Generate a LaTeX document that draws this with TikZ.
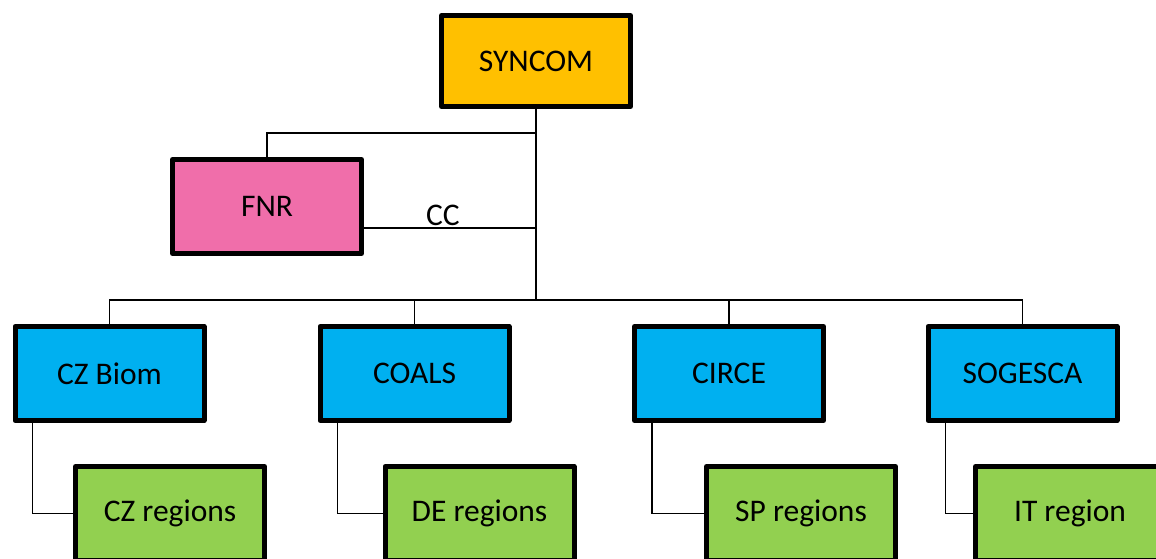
\documentclass[tikz,border=0pt]{standalone}
\usepackage{fontspec}
\setmainfont{Carlito}
\usetikzlibrary{calc}
\definecolor{cgold}{HTML}{FFC000}
\definecolor{cpink}{HTML}{F06EAA}
\definecolor{cblue}{HTML}{00B0F0}
\definecolor{cgreen}{HTML}{92D050}
\tikzset{
  box/.style={draw=black, line width=5pt, line join=round, inner sep=0pt, outer sep=0pt,
    minimum width=189pt, minimum height=94pt, font=\fontsize{31.5}{37}\selectfont},
  topbox/.style={box, fill=cgold, minimum height=91pt},
  fnrbox/.style={box, fill=cpink},
  orgbox/.style={box, fill=cblue},
  regbox/.style={box, fill=cgreen},
  link/.style={draw=black, line width=1.6pt},
  lbl/.style={inner sep=0pt, font=\fontsize{31.5}{37}\selectfont}
}
\begin{document}
\begin{tikzpicture}[x=1pt,y=-1pt]
\useasboundingbox (0,0) rectangle (1156,558);
\clip (0,0) rectangle (1156,558);
\fill[white] (0,0) rectangle (1156,558);
% nodes
\node[topbox] (syn) at (536,61) {SYNCOM};
\node[fnrbox] (fnr) at (267,206.5) {FNR};
\node[orgbox] (czb) at (109.5,373.5) {CZ Biom};
\node[orgbox] (coa) at (414.5,373.5) {COALS};
\node[orgbox] (cir) at (729,373.5) {CIRCE};
\node[orgbox] (sog) at (1022.5,373.5) {SOGESCA};
\node[regbox] (czr) at (170,513.5) {CZ regions};
\node[regbox] (der) at (479.5,513.5) {DE regions};
\node[regbox] (spr) at (801,513.5) {SP regions};
\node[regbox] (itr) at (1070,513.5) {IT region};
\node[lbl] (cc) at (443,215) {CC};
% junction coordinates
\coordinate (jf) at (536,133);
\coordinate (jc) at (536,228);
\coordinate (bus) at (536,300);
% connectors
\draw[link] (syn.south) -- (bus);
\draw[link] (fnr.north) |- (jf);
\draw[link] (fnr.east |- jc) -- (jc);
\draw[link] (czb.north) |- (sog.north |- bus) -- (sog.north);
\draw[link] (coa.north) -- (coa.north |- bus);
\draw[link] (cir.north) -- (cir.north |- bus);
\draw[link] ($(czb.south west)+(17.5,0)$) |- (czr.west);
\draw[link] ($(coa.south west)+(17.5,0)$) |- (der.west);
\draw[link] ($(cir.south west)+(17.5,0)$) |- (spr.west);
\draw[link] ($(sog.south west)+(17.5,0)$) |- (itr.west);
\end{tikzpicture}
\end{document}
